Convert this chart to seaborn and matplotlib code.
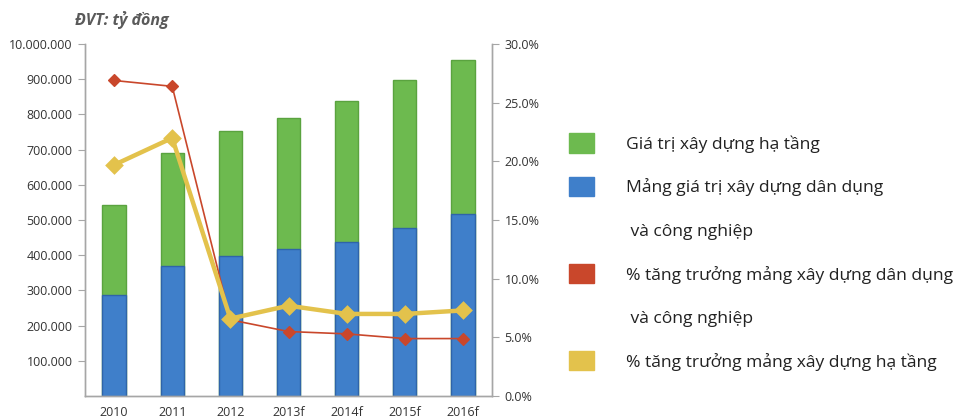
import numpy as np
import pandas as pd
import matplotlib
matplotlib.use('Agg')
import matplotlib.pyplot as plt
import matplotlib.patches as mpatches
import seaborn as sns

# data (ty dong, %)
years = ['2010', '2011', '2012', '2013f', '2014f', '2015f', '2016f']
dan_dung = [287000, 370000, 398000, 417000, 439000, 478000, 517000]
ha_tang = [256000, 320000, 356000, 373000, 400000, 419000, 438000]
tang_truong_dd = [26.9, 26.4, 6.5, 5.5, 5.3, 4.9, 4.9]
tang_truong_ht = [19.7, 22.0, 6.6, 7.7, 7.0, 7.0, 7.3]
left_ticks = [100000, 200000, 300000, 400000, 500000, 600000, 700000, 800000, 900000, 1000000]
left_labels = ['100.000', '200.000', '300.000', '400.000', '500.000', '600.000',
               '700.000', '800.000', '900.000', '10.000.000']
right_ticks = [0, 5, 10, 15, 20, 25, 30]

sns.set_style('white')
plt.rcParams['font.family'] = ['Open Sans', 'DejaVu Sans']

green = '#6dba4f'
blue = '#3f7fca'
red = '#c9472b'
yellow = '#e3c24c'
axis_grey = '#a6a6a6'

df = pd.DataFrame({'year': years, 'dan_dung': dan_dung, 'ha_tang': ha_tang,
                   'tong': np.array(dan_dung) + np.array(ha_tang),
                   'tt_dd': tang_truong_dd, 'tt_ht': tang_truong_ht})

fig = plt.figure(figsize=(9.79, 4.2), dpi=100)
ax = fig.add_axes([0.0868, 0.057, 0.4158, 0.838])

# stacked bars: total in green, civil part in blue on top of it
sns.barplot(data=df, x='year', y='tong', color=green, width=0.4, saturation=1,
            edgecolor='#5aa33f', linewidth=1, ax=ax)
sns.barplot(data=df, x='year', y='dan_dung', color=blue, width=0.4, saturation=1,
            edgecolor='#2f64a8', linewidth=1, ax=ax)

ax2 = ax.twinx()
sns.pointplot(data=df, x='year', y='tt_dd', color=red, markers='D', linestyles='-',
              linewidth=1.2, markersize=6, ax=ax2)
sns.pointplot(data=df, x='year', y='tt_ht', color=yellow, markers='D', linestyles='-',
              linewidth=3.2, markersize=7, ax=ax2)

for a in (ax, ax2):
    a.set_xlim(-0.5, len(years) - 0.5)
    a.set_xlabel('')
    a.set_ylabel('')
    for s in a.spines.values():
        s.set_color(axis_grey)
        s.set_linewidth(1)
    a.spines['top'].set_visible(False)

ax.set_ylim(0, 1000000)
ax.set_yticks(left_ticks)
ax.set_yticklabels(left_labels)
ax2.set_ylim(0, 30)
ax2.set_yticks(right_ticks)
ax2.set_yticklabels(['{:.1f}%'.format(t) for t in right_ticks])

# category labels in the middle, tick marks between categories
ax.set_xticks(np.arange(-0.5, len(years)), minor=False)
ax.set_xticklabels([])
ax.set_xticks(np.arange(len(years)), minor=True)
ax.set_xticklabels(years, minor=True)
ax.tick_params(axis='x', which='major', length=5, color=axis_grey, direction='out')
ax.tick_params(axis='x', which='minor', length=0, labelsize=9, labelcolor='#333333', pad=7)
ax2.tick_params(axis='x', which='both', length=0, labelbottom=False)
ax.tick_params(axis='y', length=5, color=axis_grey, labelsize=9, labelcolor='#333333', pad=4)
ax2.tick_params(axis='y', length=5, color=axis_grey, labelsize=9, labelcolor='#333333', pad=4)

fig.text(0.077, 0.952, 'ĐVT: tỷ đồng', fontsize=11.5, fontweight='bold', fontstyle='italic',
         color='#5a5a5a', va='center', ha='left')

# legend on the right
blank = mpatches.Patch(color='none')
handles = [mpatches.Patch(color=green), mpatches.Patch(color=blue), blank,
           mpatches.Patch(color=red), blank, mpatches.Patch(color=yellow)]
labels = ['Giá trị xây dựng hạ tầng', 'Mảng giá trị xây dựng dân dụng', ' và công nghiệp',
          '% tăng trưởng mảng xây dựng dân dụng', ' và công nghiệp',
          '% tăng trưởng mảng xây dựng hạ tầng']
leg = fig.legend(handles, labels, loc='upper left', bbox_to_anchor=(0.572, 0.703),
                 frameon=False, fontsize=12.6, handlelength=1.45, handleheight=1.3,
                 handletextpad=1.8, labelspacing=1.38, borderpad=0)
for t in leg.get_texts():
    t.set_color('#222222')

fig.savefig('out.png', dpi=100)
